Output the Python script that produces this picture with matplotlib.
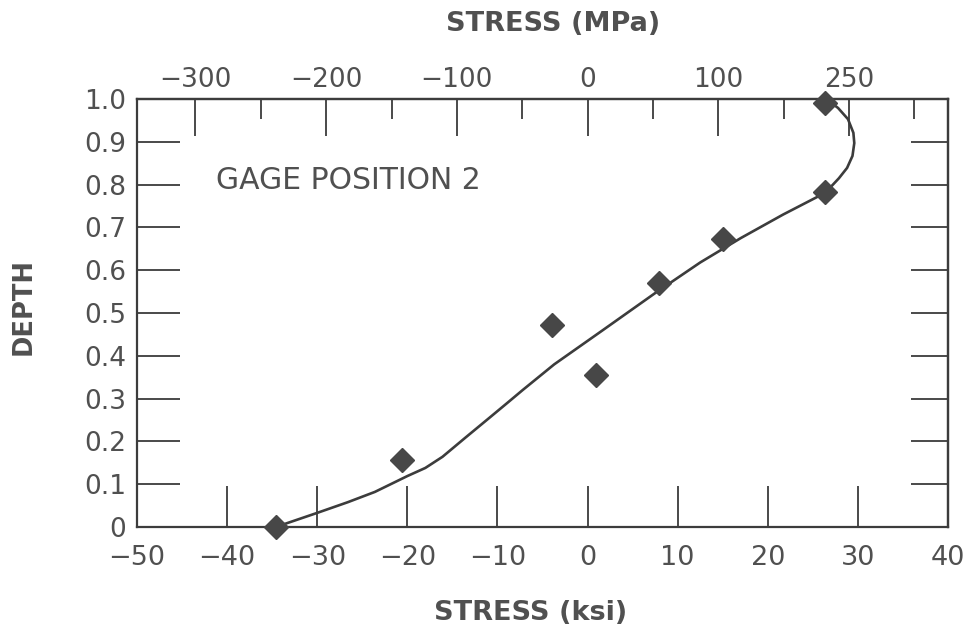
import matplotlib
matplotlib.use("Agg")
import matplotlib.pyplot as plt

# Measured residual stress vs. normalized depth
pt_ksi = [-34.6, -20.6, -4.0, 0.9, 7.9, 15.0, 26.3, 26.3]
pt_depth = [0.0, 0.156, 0.471, 0.355, 0.571, 0.672, 0.783, 0.99]

# Hand-fitted trend curve
curve_ksi = [-34.6, -30.0, -26.6, -23.6, -20.0, -18.0, -16.1, -13.6, -10.9, -8.9,
             -7.2, -3.7, 1.7, 7.4, 12.5, 17.0, 21.7, 26.3, 27.1, 27.9, 28.8,
             29.4, 29.6, 29.5, 28.9, 27.8, 26.5]
curve_depth = [0.0, 0.033, 0.058, 0.082, 0.119, 0.138, 0.164, 0.208, 0.255, 0.29,
               0.32, 0.38, 0.46, 0.545, 0.618, 0.675, 0.730, 0.780, 0.797, 0.815, 0.839,
               0.867, 0.897, 0.921, 0.953, 0.979, 1.0]

# Axis ticks
ksi_ticks = [-50, -40, -30, -20, -10, 0, 10, 20, 30, 40]
ksi_labels = ["\u221250", "\u221240", "\u221230", "\u221220", "\u221210", "0", "10", "20", "30", "40"]
depth_ticks = [0, 0.1, 0.2, 0.3, 0.4, 0.5, 0.6, 0.7, 0.8, 0.9, 1.0]
depth_labels = ["0", "0.1", "0.2", "0.3", "0.4", "0.5", "0.6", "0.7", "0.8", "0.9", "1.0"]
mpa_major = [-300, -200, -100, 0, 100, 200]
mpa_labels = ["\u2212300", "\u2212200", "\u2212100", "0", "100", "250"]
mpa_minor = [-250, -150, -50, 50, 150, 250]

KSI_TO_MPA = 6.894757

INK = "#3c3c3c"
TXT = "#505050"

fig = plt.figure(figsize=(9.72, 6.31), dpi=100)
W, H = 972, 631
ax = fig.add_axes([137 / W, 1 - 527 / H, (948 - 137) / W, (527 - 99) / H])

ax.plot(curve_ksi, curve_depth, color=INK, lw=1.9, clip_on=False, zorder=3,
        solid_joinstyle="round", solid_capstyle="round")
ax.plot(pt_ksi, pt_depth, linestyle="none", marker="D", markersize=12.5,
        markerfacecolor="#474747", markeredgecolor="#474747", clip_on=False, zorder=4)

ax.set_xlim(-50, 40)
ax.set_ylim(0, 1)

for s in ax.spines.values():
    s.set_linewidth(1.6)
    s.set_color(INK)

ax.set_xticks(ksi_ticks)
ax.set_xticklabels(ksi_labels)
ax.set_yticks(depth_ticks)
ax.set_yticklabels(depth_labels)
ax.tick_params(axis="x", direction="in", length=29.5, width=1.3, color=INK,
               pad=13, labelsize=19.5, labelcolor=TXT, top=False)
ax.tick_params(axis="y", direction="in", length=31, width=1.3, color=INK,
               pad=8, labelsize=19, labelcolor=TXT, right=False)

# Right-hand depth ticks (shorter, unlabeled)
ry = ax.secondary_yaxis("right")
ry.set_yticks(depth_ticks[1:-1])
ry.tick_params(direction="in", length=27, width=1.3, color=INK, labelright=False)
ry.spines["right"].set_linewidth(1.6)
ry.spines["right"].set_color(INK)

# Top axis in MPa
top = ax.secondary_xaxis("top", functions=(lambda k: k * KSI_TO_MPA,
                                           lambda m: m / KSI_TO_MPA))
top.set_xticks(mpa_major)
top.set_xticklabels(mpa_labels)
top.set_xticks(mpa_minor, minor=True)
top.tick_params(which="major", direction="in", length=26.5, width=1.3, color=INK,
                pad=4, labelsize=19, labelcolor=TXT)
top.tick_params(which="minor", direction="in", length=14.5, width=1.3, color=INK)
top.spines["top"].set_linewidth(1.6)
top.spines["top"].set_color(INK)

ax.text(-41.2, 0.81, "GAGE POSITION 2", fontsize=21.5, color=TXT,
        ha="left", va="center")

fig.text(553 / W, 1 - 24 / H, "STRESS (MPa)", fontsize=19.5, fontweight="bold",
         color=TXT, ha="center", va="center")
fig.text(531 / W, 1 - 613 / H, "STRESS (ksi)", fontsize=19.5, fontweight="bold",
         color=TXT, ha="center", va="center")
fig.text(24 / W, 1 - 307 / H, "DEPTH", fontsize=18.5, fontweight="bold",
         color=TXT, ha="center", va="center", rotation=90)

fig.savefig("out.png", dpi=100, facecolor="white")
